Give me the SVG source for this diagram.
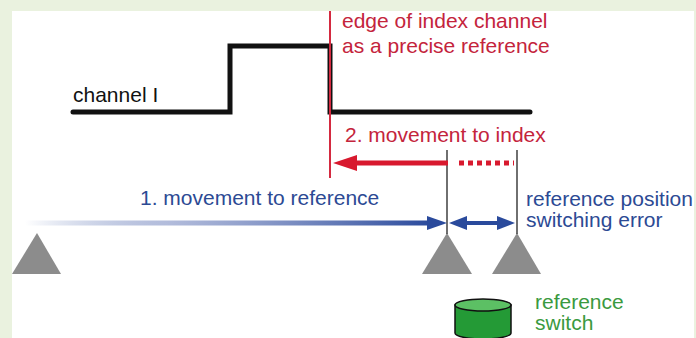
<svg xmlns="http://www.w3.org/2000/svg" width="696" height="338" viewBox="0 0 696 338">
<defs>
<linearGradient id="bluegrad" x1="25" y1="0" x2="430" y2="0" gradientUnits="userSpaceOnUse">
<stop offset="0" stop-color="#2a4a9c" stop-opacity="0"/>
<stop offset="0.35" stop-color="#8090c4" stop-opacity="0.6"/>
<stop offset="1" stop-color="#2a4a9c"/>
</linearGradient>
<style>
text{font-family:"Liberation Sans",Arial,sans-serif;font-size:21px}
.red{fill:#c4243c}
.blue{fill:#2c4a94}
.green{fill:#3a9a40}
.blk{fill:#111}
.tri{fill:#8c8c8c}
.thin{stroke:#222;stroke-width:1.3;fill:none}
</style>
</defs>
<rect x="0" y="0" width="696" height="338" fill="#eaf2df"/>
<rect x="12" y="11" width="682" height="327" fill="#ffffff"/>

<g id="channel-signal">
<polyline points="73,112 230,112 230,46 330,46 330,112 530,112" fill="none" stroke="#111" stroke-width="5" stroke-linecap="round" stroke-linejoin="miter"/>
<text class="blk" x="73" y="102">channel I</text>
</g>

<g id="index-edge">
<line x1="330" y1="11" x2="330" y2="178" stroke="#d42a40" stroke-width="2"/>
<text class="red" x="342" y="28">edge of index channel</text>
<text class="red" x="342" y="53">as a precise reference</text>
</g>

<g id="triangle-left"><polygon class="tri" points="37,233 12,274 61,274"/></g>
<g id="triangle-mid"><polygon class="tri" points="447,233 422,274 472,274"/></g>
<g id="triangle-right"><polygon class="tri" points="517,233 492,274 541,274"/></g>

<g id="reference-switch">
<path d="M455,305 L455,333 A28,6 0 0 0 511,333 L511,305 Z" fill="#249a36" stroke="#111" stroke-width="1.5"/>
<ellipse cx="483" cy="305" rx="28" ry="6" fill="#5cc064" stroke="#111" stroke-width="1.5"/>
<text class="green" x="535" y="309">reference</text>
<text class="green" x="535" y="330">switch</text>
</g>

<g id="error-label">
<text class="blue" x="526" y="206">reference position</text>
<text class="blue" x="526" y="227">switching error</text>
</g>

<g id="connectors">
<line class="thin" x1="447" y1="150" x2="447" y2="234"/>
<line class="thin" x1="517" y1="150" x2="517" y2="234"/>
<line x1="354" y1="163" x2="448" y2="163" stroke="#d8192e" stroke-width="5"/>
<polygon points="333,163 357,155 357,171" fill="#d8192e"/>
<line x1="459" y1="163" x2="514" y2="163" stroke="#d8192e" stroke-width="5" stroke-dasharray="5 4"/>
<text class="red" x="345" y="142">2. movement to index</text>
<line x1="25" y1="223" x2="430" y2="223" stroke="url(#bluegrad)" stroke-width="5"/>
<polygon points="447,223 427,216 427,230" fill="#2a4a9c"/>
<text class="blue" x="140" y="205">1. movement to reference</text>
<line x1="464" y1="223" x2="500" y2="223" stroke="#2a4a9c" stroke-width="4"/>
<polygon points="449,223 467,216 467,230" fill="#2a4a9c"/>
<polygon points="515,223 497,216 497,230" fill="#2a4a9c"/>
</g>
</svg>
